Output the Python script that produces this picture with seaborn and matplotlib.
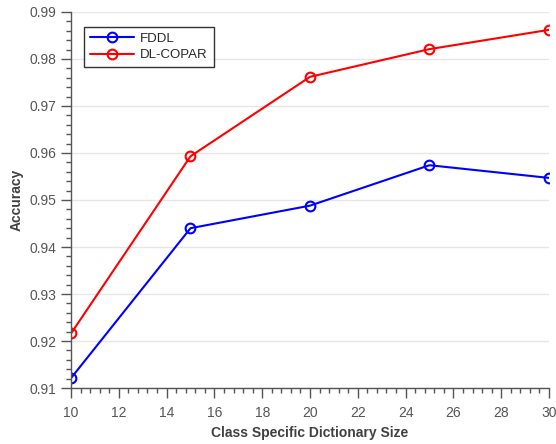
import numpy as np
import pandas as pd
import matplotlib
matplotlib.use('Agg')
import matplotlib.pyplot as plt
import seaborn as sns
from matplotlib.ticker import MultipleLocator

#%% data
dict_size = [10, 15, 20, 25, 30]
fddl_acc = [0.9121, 0.9440, 0.9488, 0.9574, 0.9547]
dlcopar_acc = [0.9216, 0.9593, 0.9762, 0.9821, 0.9862]
series_names = ['FDDL', 'DL-COPAR']
series_colors = ['#0000ff', '#ff0000']

df = pd.DataFrame({
    'size': dict_size * 2,
    'acc': fddl_acc + dlcopar_acc,
    'method': [series_names[0]] * len(dict_size) + [series_names[1]] * len(dict_size),
})

#%% style
sns.set_style('white')
plt.rcParams['font.family'] = ['Liberation Sans', 'DejaVu Sans']
axis_gray = '#555555'

fig = plt.figure(figsize=(5.56, 4.44), dpi=100)
ax = fig.add_axes([0.1277, 0.1261, 0.8597, 0.8469])

for name, color in zip(series_names, series_colors):
    sns.lineplot(data=df[df['method'] == name], x='size', y='acc', ax=ax,
                 color=color, linewidth=1.5, marker='o', markersize=7,
                 markerfacecolor='none', markeredgecolor=color,
                 markeredgewidth=1.5, label=name)

ax.set_xlim(10, 30)
ax.set_ylim(0.91, 0.99)
ax.xaxis.set_major_locator(MultipleLocator(2))
ax.xaxis.set_minor_locator(MultipleLocator(0.4))
ax.yaxis.set_major_locator(MultipleLocator(0.01))
ax.yaxis.set_minor_locator(MultipleLocator(0.002))
ax.yaxis.set_major_formatter(matplotlib.ticker.FormatStrFormatter('%.2f'))

ax.grid(axis='y', which='major', color='#e6e6e6', linewidth=1)
ax.grid(axis='x', visible=False)
ax.set_axisbelow(True)

for s in ['top', 'right']:
    ax.spines[s].set_visible(False)
for s in ['left', 'bottom']:
    ax.spines[s].set_color(axis_gray)
    ax.spines[s].set_linewidth(1)

ax.tick_params(which='major', direction='out', length=7, width=1,
               color=axis_gray, labelcolor=axis_gray, labelsize=10,
               bottom=True, left=True)
ax.tick_params(which='minor', direction='out', length=3.5, width=1,
               color=axis_gray, bottom=True, left=True)
ax.tick_params(axis='x', pad=6)

ax.set_xlabel('Class Specific Dictionary Size', fontsize=10, fontweight='bold',
              color='#404040', labelpad=4)
ax.set_ylabel('Accuracy', fontsize=10, fontweight='bold', color='#404040',
              labelpad=4)

leg = ax.legend(loc='upper left', bbox_to_anchor=(0.014, 0.978), fontsize=9.5,
                handlelength=3.3, frameon=True, fancybox=False,
                borderpad=0.45, labelspacing=0.3, handletextpad=0.5)
leg.get_frame().set_edgecolor('black')
leg.get_frame().set_linewidth(1)

plt.savefig('out.png', dpi=100)
